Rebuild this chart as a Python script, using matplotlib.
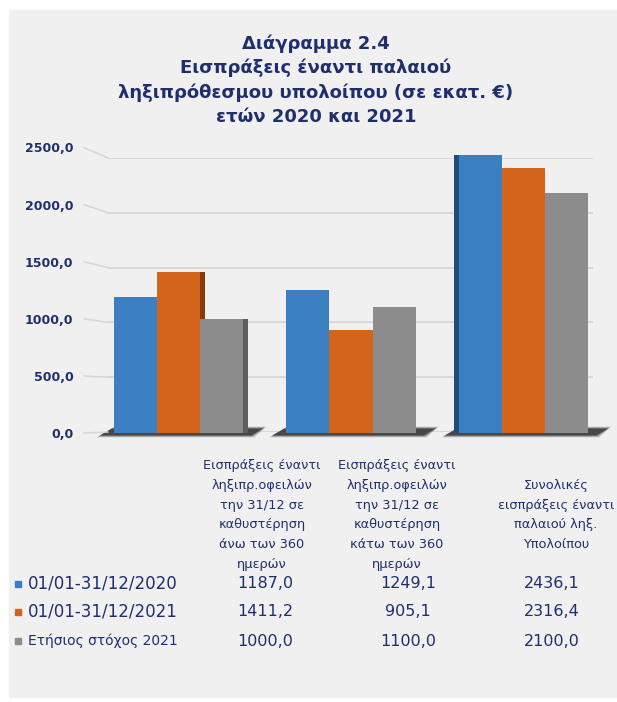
import numpy as np
import matplotlib.pyplot as plt
from matplotlib.patches import Rectangle, ConnectionPatch, Polygon

# data
categories = ["Εισπράξεις έναντι\nληξιπρ.οφειλών\nτην 31/12 σε\nκαθυστέρηση\nάνω των 360\nημερών",
              "Εισπράξεις έναντι\nληξιπρ.οφειλών\nτην 31/12 σε\nκαθυστέρηση\nκάτω των 360\nημερών",
              "Συνολικές\nεισπράξεις έναντι\nπαλαιού ληξ.\nΥπολοίπου"]
series_names = ["01/01-31/12/2020", "01/01-31/12/2021", "Ετήσιος στόχος 2021"]
v2020 = [1187.0, 1249.1, 2436.1]
v2021 = [1411.2, 905.1, 2316.4]
target = [1000.0, 1100.0, 2100.0]
yticks = [0, 500, 1000, 1500, 2000, 2500]
title_lines = ["Διάγραμμα 2.4", "Εισπράξεις έναντι παλαιού",
               "ληξιπρόθεσμου υπολοίπου (σε εκατ. €)", "ετών 2020 και 2021"]

colors = ['#3a7fc2', '#d2641c', '#8c8c8c']
side_colors = ['#1f4e79', '#8a3c08', '#5e5e5e']
navy = '#1f2f6e'

W, H = 617, 702
def fx(x):
    return x / W
def fy(y):
    return 1 - y / H

def fmt(v):
    return f"{v:.1f}".replace('.', ',')

fig = plt.figure(figsize=(W / 100, H / 100), dpi=100)
fig.patch.set_facecolor('white')
fig.add_artist(Rectangle((fx(9), fy(697)), (W - 9) / W, (697 - 10) / H,
                         transform=fig.transFigure, color='#f0f0f0', zorder=-5))

# back wall (gridlines) and front axes (bars + labels)
axg = fig.add_axes([fx(108), fy(432), (593 - 108) / W, (432 - 158) / H])
ax = fig.add_axes([fx(108), fy(433), (593 - 108) / W, (433 - 147.5) / H])
for a in (axg, ax):
    a.set_facecolor('none')
    for s in a.spines.values():
        s.set_visible(False)
    a.set_ylim(0, 2500)
    a.set_xlim(-0.409, 2.403)
    a.set_xticks([])
    a.set_yticks(yticks)
    a.tick_params(length=0)

axg.set_yticklabels([])
axg.yaxis.grid(True, color='#d6d6d6', linewidth=1.3)
axg.set_axisbelow(True)

ax.set_yticklabels([fmt(v) for v in yticks])
ax.tick_params(axis='y', pad=25, labelsize=9, labelcolor=navy)
for lab in ax.get_yticklabels():
    lab.set_fontweight('bold')

for v in yticks:
    con = ConnectionPatch(xyA=(-0.05, v), coordsA=ax.get_yaxis_transform(),
                          xyB=(0, v), coordsB=axg.get_yaxis_transform(),
                          color='#d6d6d6', linewidth=1.1)
    fig.add_artist(con)

x = np.arange(len(categories))
w = 0.25
px = 1 / 172.5      # one pixel in x data units
py = 2500 / 285.5   # one pixel in y data units

# floor shadows, a few layers to fake the blur
for j in x:
    L = j - 1.5 * w
    R = j + 1.5 * w
    for grow, alpha in [(3, 0.25), (1.5, 0.4), (0, 0.75)]:
        shp = Polygon([(L - (14 + grow) * px, -(2.5 + grow * 0.6) * py),
                       (R + (8 + grow) * px, -(2.5 + grow * 0.6) * py),
                       (R + (20 + grow) * px, (4.5 + grow * 0.6) * py),
                       (L - (2 - grow) * px, (4.5 + grow * 0.6) * py)],
                      closed=True, color='#333333', alpha=alpha, lw=0,
                      zorder=1.6, clip_on=False)
        ax.add_patch(shp)

sw = 5 * px
for i, vals in enumerate([v2020, v2021, target]):
    pos = x + (i - 1) * w
    ax.bar(pos, vals, w, color=colors[i], zorder=3, clip_on=False)
    for j in x:
        d = 1 - j
        if d != 0:
            ax.bar(pos[j] + d * (w / 2 + sw / 2), vals[j], sw,
                   color=side_colors[i], zorder=2.5, clip_on=False)

# title
title_y = [44, 68, 93, 117]
for k, (t, y) in enumerate(zip(title_lines, title_y)):
    fig.text(fx(316), fy(y), t, ha='center', va='center',
             fontsize=13, fontweight='bold', color=navy)

# data table
col_x = [262, 397, 556]
val_x = [265, 408, 552]
row_y = [584, 612, 641]
for cx, cat in zip(col_x, categories):
    fig.text(fx(cx), fy(515), cat, ha='center', va='center',
             multialignment='center', fontsize=9.3, color=navy, linespacing=1.68)

for i, (name, vals) in enumerate(zip(series_names, [v2020, v2021, target])):
    y = row_y[i]
    fig.add_artist(Rectangle((fx(15), fy(y + 3)), 6 / W, 6 / H,
                             transform=fig.transFigure, color=colors[i]))
    fig.text(fx(28), fy(y), name, ha='left', va='center',
             fontsize=10 if i == 2 else 12, color=navy)
    for vx, v in zip(val_x, vals):
        fig.text(fx(vx), fy(y), fmt(v), ha='center', va='center',
                 fontsize=11.5, color=navy)

fig.savefig('out.png', dpi=100)
